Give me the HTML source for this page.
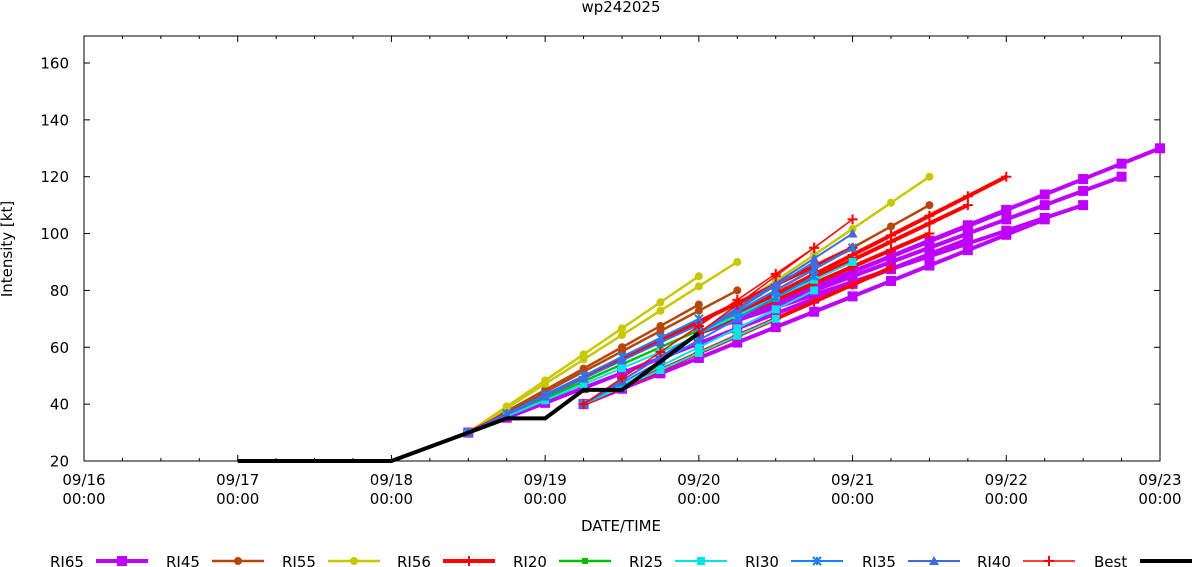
<!DOCTYPE html>
<html><head><meta charset="utf-8"><style>
html,body{margin:0;padding:0;background:#fff;}
svg{display:block;font-family:"DejaVu Sans","Liberation Sans",sans-serif;}
</style></head><body>
<svg id="s" width="1193" height="567" viewBox="0 0 1193 567" xmlns="http://www.w3.org/2000/svg">
<rect width="1193" height="567" fill="#fff"/>
<text x="621" y="12" font-size="15" text-anchor="middle">wp242025</text>
<rect x="84" y="36" width="1076" height="425" fill="none" stroke="#000" stroke-width="1"/>
<g id="ticks" stroke="#000" stroke-width="1"></g>
<g id="labels" font-size="15"></g>
<text x="621" y="531" font-size="15" text-anchor="middle">DATE/TIME</text>
<text transform="translate(12,249) rotate(-90)" font-size="15" text-anchor="middle">Intensity [kt]</text>
<g id="series"></g>
<g id="legend" font-size="15"></g>
</svg>
<script>
var NS="http://www.w3.org/2000/svg";
function el(p,t,a,txt){var e=document.createElementNS(NS,t);for(var k in a)e.setAttribute(k,a[k]);if(txt!=null)e.textContent=txt;p.appendChild(e);return e;}
function X(h){return 84+h*(1076/168);}
function Y(v){return 461-(v-20)*2.843;}
var tk=document.getElementById('ticks'),lb=document.getElementById('labels');
for(var v=20;v<=160;v+=20){var y=Y(v);el(tk,'line',{x1:84,y1:y,x2:90,y2:y});el(tk,'line',{x1:1160,y1:y,x2:1154,y2:y});
el(lb,'text',{x:69,y:y+5.5,'text-anchor':'end'},String(v));}
for(var h=0;h<=168;h+=6){var x=X(h),L=(h%24==0)?6:3;el(tk,'line',{x1:x,y1:461,x2:x,y2:461-L});el(tk,'line',{x1:x,y1:36,x2:x,y2:36+L});}
for(var d=0;d<=7;d++){var x=X(d*24);el(lb,'text',{x:x,y:485,'text-anchor':'middle'},'09/'+(16+d));el(lb,'text',{x:x,y:504,'text-anchor':'middle'},'00:00');}
var best=[[24,20],[48,20],[60,30],[66,35],[72,35],[78,45],[84,45],[90,55],[96,65]];
var S=document.getElementById('series');
function marker(g,m,x,y,c,sz){
 if(m=='sq')el(g,'rect',{x:x-sz,y:y-sz,width:2*sz,height:2*sz,fill:c});
 else if(m=='ci')el(g,'circle',{cx:x,cy:y,r:sz,fill:c});
 else if(m=='pl'){el(g,'path',{d:'M'+(x-sz)+' '+y+'H'+(x+sz)+'M'+x+' '+(y-sz)+'V'+(y+sz),stroke:c,'stroke-width':2,fill:'none'});}
 else if(m=='x'){el(g,'path',{d:'M'+(x-sz)+' '+(y-sz)+'L'+(x+sz)+' '+(y+sz)+'M'+(x-sz)+' '+(y+sz)+'L'+(x+sz)+' '+(y-sz)+'M'+x+' '+(y-sz)+'V'+(y+sz),stroke:c,'stroke-width':2,fill:'none'});}
 else if(m=='tr')el(g,'path',{d:'M'+x+' '+(y-sz)+'L'+(x+sz)+' '+(y+sz*0.8)+'L'+(x-sz)+' '+(y+sz*0.8)+'Z',fill:c});
}
var specs=[
 {c:'#bf00ff',w:4,m:'sq',sz:5,L:[[60,30,138,98],[78,40,150,105],[96,65,168,130],[96,65,162,120],[96,65,156,110],[96,65,144,108],[96,65,138,100]]},
 {c:'#b8460b',w:2.5,m:'ci',sz:4,L:[[60,30,96,75],[60,30,102,80],[96,65,132,110]]},
 {c:'#c8c800',w:2.5,m:'ci',sz:4,L:[[60,30,96,85],[60,30,102,90],[96,65,132,120]]},
 {c:'#ff0000',w:4,m:'pl',sz:5,L:[[60,30,120,95],[78,40,126,88],[96,65,144,120],[96,65,138,110],[96,65,132,100]]},
 {c:'#00c000',w:2.5,m:'sq',sz:3,L:[[60,30,96,66],[96,65,108,77]]},
 {c:'#00e5e5',w:2,m:'sq',sz:4,L:[[60,30,96,64],[78,40,108,70],[78,40,114,80],[96,65,120,90]]},
 {c:'#1e80ff',w:2,m:'x',sz:4,L:[[60,30,96,70],[78,40,114,85],[96,65,120,95]]},
 {c:'#4169e1',w:2,m:'tr',sz:5,L:[[60,30,96,68],[78,40,114,90],[96,65,120,100]]},
 {c:'#ff0000',w:1.5,m:'pl',sz:5,L:[[78,40,114,95],[96,65,120,105]]}
];
specs.forEach(function(s){
 var g=el(S,'g',{});
 s.L.forEach(function(l){
  var pts=[],n=(l[2]-l[0]);
  for(var t=0;t<=n;t+=6){pts.push([X(l[0]+t),Y(l[1]+(l[3]-l[1])*t/n)]);}
  el(g,'polyline',{points:pts.map(function(p){return p.join(',')}).join(' '),fill:'none',stroke:s.c,'stroke-width':s.w});
  pts.forEach(function(p){marker(g,s.m,p[0],p[1],s.c,s.sz);});
 });
});
el(S,'polyline',{points:best.map(function(p){return X(p[0])+','+Y(p[1])}).join(' '),fill:'none',stroke:'#000','stroke-width':4});
var LG=document.getElementById('legend');
var names=['RI65','RI45','RI55','RI56','RI20','RI25','RI30','RI35','RI40','Best'];
var starts=[50,166,282,397,513,629,745,862,977,1094];
var lspec=specs.concat([{c:'#000',w:4,m:null}]);
names.forEach(function(n,i){
 var x=starts[i];el(LG,'text',{x:x,y:567},n);
 var s=lspec[i],sx=x+46,ex=Math.min(sx+52,1193),y=561;
 el(LG,'line',{x1:sx,y1:y,x2:ex,y2:y,stroke:s.c,'stroke-width':s.w});
 if(s.m)marker(LG,s.m,(sx+ex)/2,y,s.c,s.sz);
});
</script>
</body></html>
